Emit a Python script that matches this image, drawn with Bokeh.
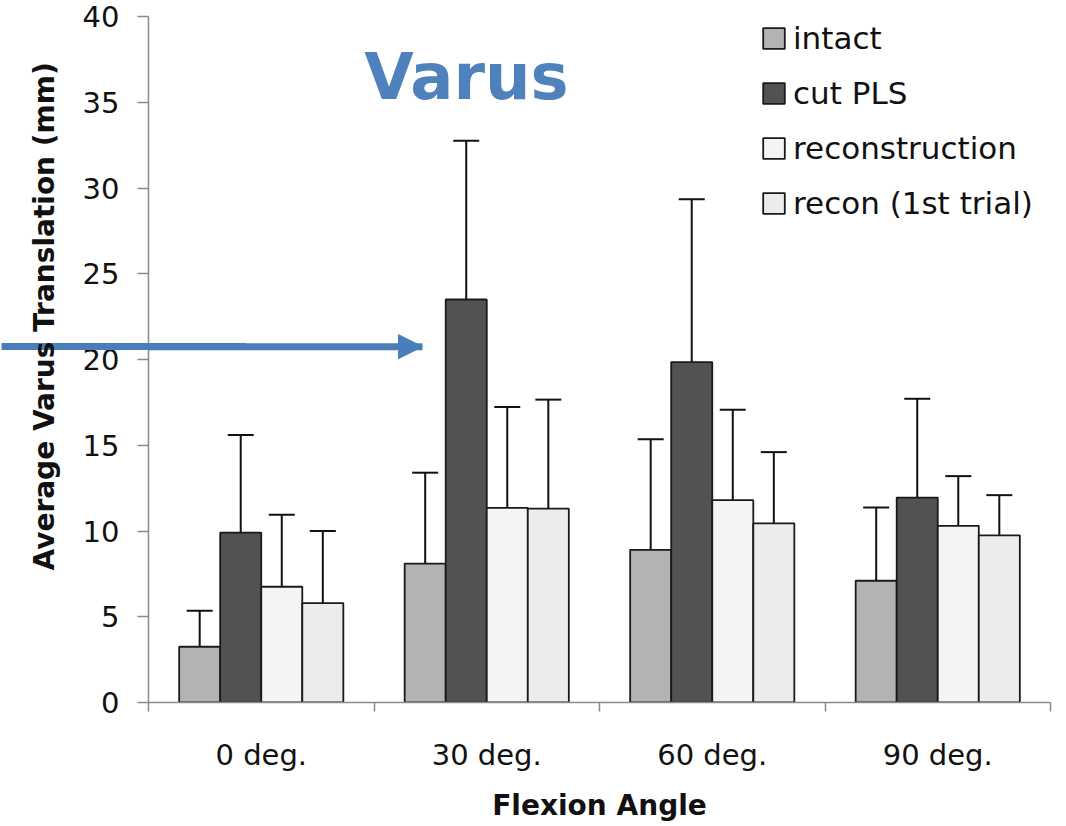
from bokeh.plotting import figure
from bokeh.models import (ColumnDataSource, Range1d, FixedTicker, Whisker, TeeHead,
                          NormalHead, Label, Legend, LegendItem, Title, LinearAxis)
from bokeh.embed import file_html
from bokeh.resources import INLINE

# ---------------- data ----------------
categories = ["0 deg.", "30 deg.", "60 deg.", "90 deg."]
series = ["intact", "cut PLS", "reconstruction", "recon (1st trial)"]

intact_mean = [3.25, 8.1, 8.9, 7.1]
intact_sd = [2.1, 5.3, 6.45, 4.27]
cutpls_mean = [9.9, 23.5, 19.85, 11.95]
cutpls_sd = [5.7, 9.25, 9.5, 5.76]
recon_mean = [6.75, 11.35, 11.8, 10.3]
recon_sd = [4.2, 5.88, 5.27, 2.9]
recon1_mean = [5.8, 11.3, 10.45, 9.75]
recon1_sd = [4.2, 6.36, 4.15, 2.34]

means = [intact_mean, cutpls_mean, recon_mean, recon1_mean]
sds = [intact_sd, cutpls_sd, recon_sd, recon1_sd]
colors = ["#b3b3b3", "#525252", "#f4f4f4", "#ececec"]

y_ticks = [0, 5, 10, 15, 20, 25, 30, 35, 40]

# annotation settings (data coordinates)
ARROW_Y = [20.75]
ARROW_X0 = [-0.66]
ARROW_X1 = [1.215]
TITLE_X = 1.41
TITLE_Y = 36.5

BAR_W = 0.182
BLUE = "#4a7ebb"

# ---------------- figure ----------------
p = figure(width=1066, height=824, output_backend="svg", toolbar_location=None,
           x_range=Range1d(0, len(categories)), y_range=Range1d(0, 40),
           min_border_left=148, min_border_right=16, min_border_top=16,
           min_border_bottom=120)
p.background_fill_color = "white"
p.border_fill_color = "white"
p.outline_line_color = None
p.grid.visible = False

renderers = []
for i, name in enumerate(series):
    xs = [g + 0.5 + (i - 1.5) * BAR_W for g in range(len(categories))]
    top = means[i]
    upper = [m + s for m, s in zip(means[i], sds[i])]
    lower = [m - s for m, s in zip(means[i], sds[i])]
    src = ColumnDataSource(dict(x=xs, top=top, upper=upper, lower=lower))
    r = p.vbar(x="x", top="top", width=BAR_W, bottom=0, source=src,
               fill_color=colors[i], line_color="#1a1a1a", line_width=1.8)
    renderers.append(r)
    w = Whisker(base="x", upper="upper", lower="lower", source=src,
                line_color="#111111", line_width=2,
                upper_head=TeeHead(size=26, line_color="#111111", line_width=2),
                lower_head=TeeHead(size=26, line_color="#111111", line_width=2))
    p.add_layout(w)

# ---------------- axes ----------------
p.yaxis.ticker = FixedTicker(ticks=y_ticks)
p.yaxis.major_tick_out = 11
p.yaxis.major_tick_in = 0
p.yaxis.minor_tick_line_color = None
p.yaxis.major_label_standoff = 18

p.xaxis.ticker = FixedTicker(ticks=[g + 0.5 for g in range(len(categories))],
                             minor_ticks=list(range(len(categories) + 1)))
p.xaxis.major_label_overrides = {g + 0.5: c for g, c in enumerate(categories)}
p.xaxis.major_tick_out = 0
p.xaxis.major_tick_in = 0
p.xaxis.minor_tick_out = 9
p.xaxis.minor_tick_in = 0
p.xaxis.minor_tick_line_color = "#8a8a8a"
p.xaxis.minor_tick_line_width = 1.5
p.xaxis.major_label_standoff = 26
p.xaxis.axis_label = "Flexion Angle"
p.xaxis.axis_label_standoff = 14

for ax in (p.xaxis, p.yaxis):
    ax.axis_line_color = "#8a8a8a"
    ax.axis_line_width = 1.5
    ax.major_tick_line_width = 1.5
    ax.major_label_text_font = "DejaVu Sans"
    ax.major_label_text_font_size = "29px"
    ax.major_label_text_color = "#111111"
    ax.axis_label_text_font = "DejaVu Sans"
    ax.axis_label_text_font_style = "bold"
    ax.axis_label_text_font_size = "28px"
    ax.axis_label_text_color = "#111111"
p.yaxis.major_tick_line_color = "#8a8a8a"
p.xaxis.major_tick_line_color = None

# y-axis title: sits above the frame centre in the original
p.add_layout(Title(text="Average Varus Translation (mm)", align="left", offset=132,
                   standoff=38, text_font="DejaVu Sans", text_font_style="bold",
                   text_font_size="28px", text_color="#111111"), "left")

# outer part of the arrow shaft (left of the frame) drawn as a tick of a bare axis
arrow_axis = LinearAxis(ticker=FixedTicker(ticks=ARROW_Y), axis_line_color=None,
                        major_tick_out=5, major_tick_in=240,
                        major_tick_line_color=BLUE, major_tick_line_width=7,
                        minor_tick_line_color=None, major_label_standoff=0,
                        major_label_text_font_size="1px",
                        major_label_text_color=None)
p.add_layout(arrow_axis, "left")

# ---------------- legend ----------------
legend = Legend(items=[LegendItem(label=s, renderers=[r]) for s, r in zip(series, renderers)],
                location=(612, 481), orientation="vertical",
                label_text_font="DejaVu Sans", label_text_font_size="31px",
                label_text_color="#111111",
                glyph_width=27, glyph_height=26, label_standoff=6,
                spacing=19, padding=0, margin=0,
                border_line_color=None, background_fill_alpha=0)
p.add_layout(legend)

# ---------------- annotations ----------------
arrow_src = ColumnDataSource(dict(y=ARROW_Y, x0=ARROW_X0, x1=ARROW_X1))
p.add_layout(Whisker(base="y", lower="x0", upper="x1", dimension="width", source=arrow_src,
                     line_color=BLUE, line_width=7, lower_head=None,
                     upper_head=NormalHead(size=24, fill_color=BLUE,
                                           line_color=BLUE, line_width=1)))

p.add_layout(Label(x=TITLE_X, y=TITLE_Y, text="Varus", text_align="center",
                   text_baseline="alphabetic", text_font="DejaVu Sans",
                   text_font_style="bold", text_font_size="64px",
                   text_color="#4f81bd"))

open("out.html", "w").write(file_html(p, INLINE))
